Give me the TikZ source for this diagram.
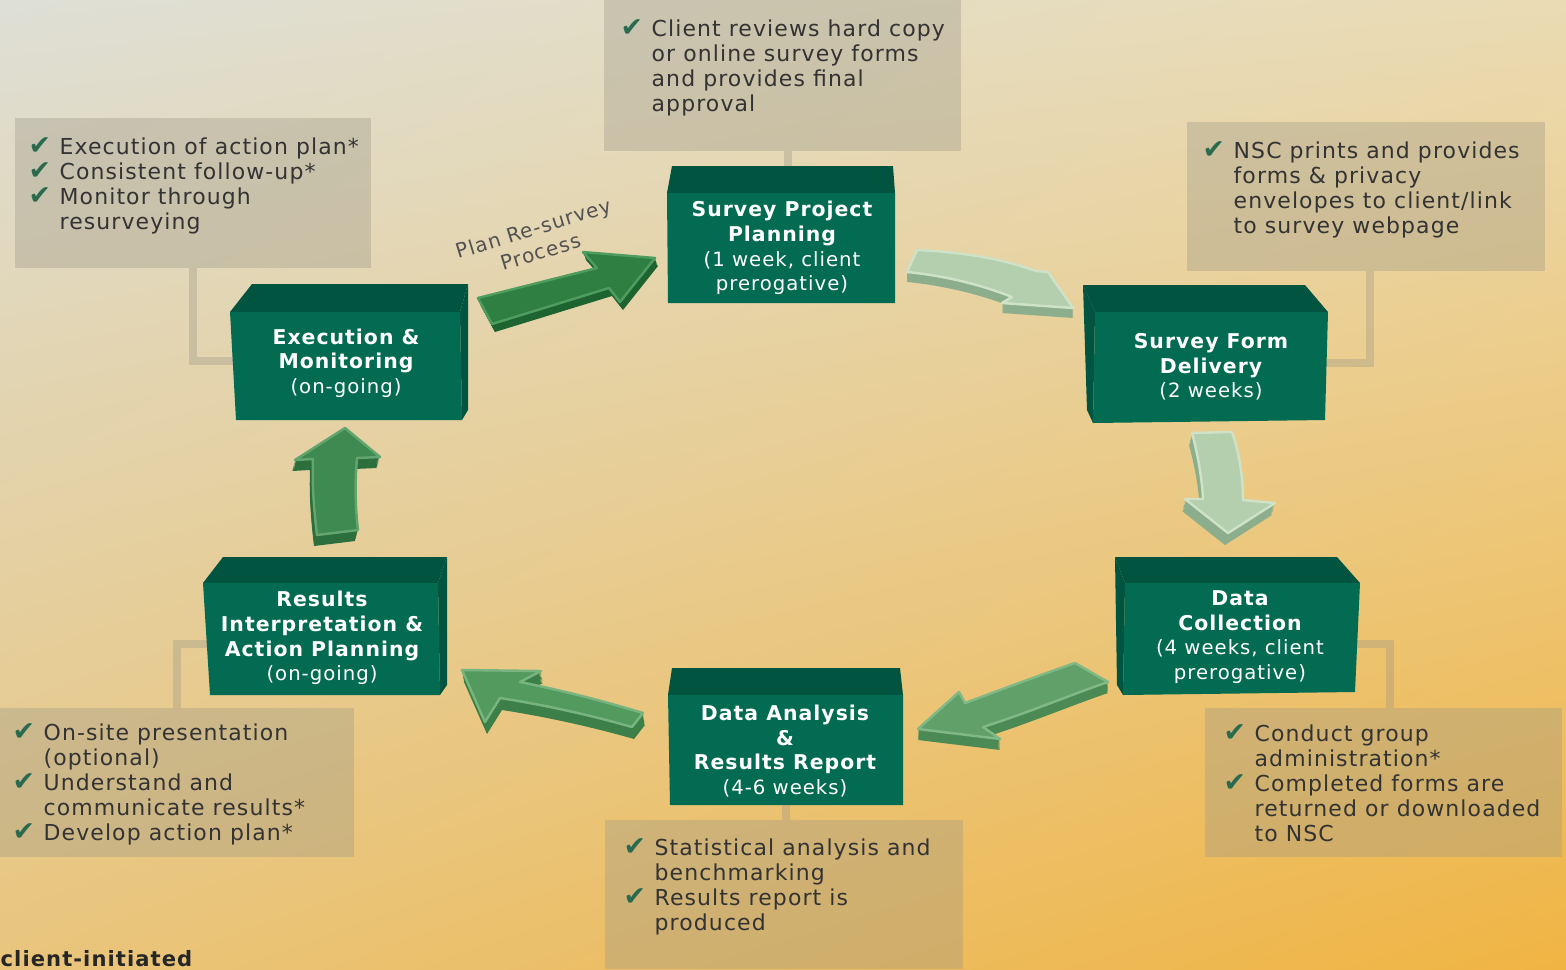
\documentclass[tikz,border=0pt]{standalone}
\usepackage{fontspec}
\setmainfont{DejaVu Sans}[LetterSpace=5]
\usetikzlibrary{shadings}
\definecolor{bgTL}{HTML}{DEDFD6}
\definecolor{bgTR}{HTML}{EADBB3}
\definecolor{bgBL}{HTML}{E9C57C}
\definecolor{bgBR}{HTML}{F0B443}
\definecolor{boxgray}{HTML}{9A9686}
\definecolor{frontc}{HTML}{036B51}
\definecolor{topc}{HTML}{01543F}
\definecolor{txtgray}{HTML}{333333}
\definecolor{ckgreen}{HTML}{2A6A4E}
\definecolor{aTop}{HTML}{2E7F41}\definecolor{aBev}{HTML}{4E9C5E}\definecolor{aSide}{HTML}{1E6430}
\definecolor{lTop}{HTML}{B3CFAE}\definecolor{lBev}{HTML}{CFE2C8}\definecolor{lSide}{HTML}{8DAE8C}
\definecolor{dTop}{HTML}{62A06A}\definecolor{dBev}{HTML}{80B986}\definecolor{dSide}{HTML}{4B8955}
\definecolor{eTop}{HTML}{539A5E}\definecolor{eBev}{HTML}{78B47F}\definecolor{eSide}{HTML}{3D7F49}
\definecolor{fTop}{HTML}{3F8A50}\definecolor{fBev}{HTML}{62A56E}\definecolor{fSide}{HTML}{2C6E3C}
\newcommand\ckb{\makebox[8.8pt][l]{\smash{\textcolor{ckgreen}{\fontsize{7.6}{7.6}\selectfont ✔}}}}
\newcommand\ckn{\makebox[8.8pt]{}}
\def\pA{(478,298) -- (597,268) -- (583,252) -- (655,258) -- (620,302) -- (609,288) -- (492,324) -- cycle}
\def\pB{(917,250) .. controls (960,252) and (1000,258) .. (1036,271) -- (1048,272) -- (1073,308) -- (1002,303) -- (1012,297) .. controls (980,284) and (940,275) .. (907,272) -- cycle}
\def\pC{(1192,433) -- (1232,432) .. controls (1240,455) and (1243,480) .. (1243,500) -- (1275,503) -- (1228,533) -- (1185,499) -- (1203,499) .. controls (1202,478) and (1198,455) .. (1192,433) -- cycle}
\def\pD{(1075,663) -- (1108,682) .. controls (1070,695) and (1030,712) .. (983,727) -- (1000,739) -- (918,729) -- (959,692) -- (965,703) .. controls (1000,690) and (1040,675) .. (1075,663) -- cycle}
\def\pE{(462,670) -- (541,671) -- (520,682) .. controls (560,690) and (600,700) .. (643,713) -- (632,727) .. controls (590,715) and (545,705) .. (500,698) -- (485,722) -- cycle}
\def\pF{(345,428) -- (380,457) -- (357,458) .. controls (355,480) and (355,505) .. (358,530) -- (317,535) .. controls (314,510) and (312,485) .. (313,459) -- (295,460) -- cycle}
\begin{document}
\begin{tikzpicture}[x=0.01cm,y=-0.01cm,
  gbox/.style={fill=boxgray, fill opacity=0.35},
  gline/.style={draw=boxgray, draw opacity=0.35, line width=2.2pt},
  gtext/.style={text=txtgray, font=\fontsize{6.25}{7.1}\selectfont, inner sep=0pt, anchor=north west, align=left},
  btext/.style={text=white, align=center, inner sep=0pt, font=\fontsize{5.6}{7.0}\selectfont},
  frontf/.style={fill=frontc},
  topf/.style={fill=topc},
  bev/.style={line width=0.7pt, line join=round}]
\useasboundingbox (0,0) rectangle (1566,969);
\shade[upper left=bgTL, upper right=bgTR, lower left=bgBL, lower right=bgBR] (0cm,0cm) rectangle (15.66cm,-9.69cm);

% connectors
\coordinate (cTC1) at (788,151); \coordinate (cTC2) at (788,170);
\draw[gline] (cTC1) -- (cTC2);
\coordinate (cTL1) at (193,268); \coordinate (cTL2) at (193,361); \coordinate (cTL3) at (235,361);
\draw[gline] (cTL1) -- (cTL2) -- (cTL3);
\coordinate (cTR1) at (1370,271); \coordinate (cTR2) at (1370,363); \coordinate (cTR3) at (1325,363);
\draw[gline] (cTR1) -- (cTR2) -- (cTR3);
\coordinate (cBR1) at (1390,708); \coordinate (cBR2) at (1390,644); \coordinate (cBR3) at (1352,644);
\draw[gline] (cBR1) -- (cBR2) -- (cBR3);
\coordinate (cBL1) at (177,708); \coordinate (cBL2) at (177,644); \coordinate (cBL3) at (208,644);
\draw[gline] (cBL1) -- (cBL2) -- (cBL3);
\coordinate (cBC1) at (786,802); \coordinate (cBC2) at (786,820);
\draw[gline] (cBC1) -- (cBC2);

% gray boxes
\fill[gbox] (604,0) rectangle (961,151);
\fill[gbox] (15,118) rectangle (371,268);
\fill[gbox] (1187,122) rectangle (1545,271);
\fill[gbox] (1205,708) rectangle (1562,857);
\fill[gbox] (0,708) rectangle (354,857);
\fill[gbox] (605,820) rectangle (963,969);

\node[gtext] (tTC) at (620,19) {\ckb Client reviews hard copy\\\ckn or online survey forms\\\ckn and provides final\\\ckn approval};
\node[gtext] (tTL) at (28,137) {\ckb Execution of action plan*\\\ckb Consistent follow-up*\\\ckb Monitor through\\\ckn resurveying};
\node[gtext] (tTR) at (1202,141) {\ckb NSC prints and provides\\\ckn forms \& privacy\\\ckn envelopes to client/link\\\ckn to survey webpage};
\node[gtext] (tBR) at (1223,724) {\ckb Conduct group\\\ckn administration*\\\ckb Completed forms are\\\ckn returned or downloaded\\\ckn to NSC};
\node[gtext] (tBL) at (12,723) {\ckb On-site presentation\\\ckn (optional)\\\ckb Understand and\\\ckn communicate results*\\\ckb Develop action plan*};
\node[gtext] (tBC) at (623,838) {\ckb Statistical analysis and\\\ckn benchmarking\\\ckb Results report is\\\ckn produced};

% arrows
\foreach \t in {0,...,10} \fill[aSide, shift={(0.3*\t,0.8*\t)}] \pA;
\fill[aTop] \pA; \draw[aBev,bev] \pA;
\foreach \t in {0,...,10} \fill[lSide, shift={(0,1.0*\t)}] \pB;
\fill[lTop] \pB; \draw[lBev,bev] \pB;
\foreach \t in {0,...,10} \fill[lSide, shift={(-0.3*\t,1.2*\t)}] \pC;
\fill[lTop] \pC; \draw[lBev,bev] \pC;
\foreach \t in {0,...,10} \fill[dSide, shift={(0,1.1*\t)}] \pD;
\fill[dTop] \pD; \draw[dBev,bev] \pD;
\foreach \t in {0,...,10} \fill[eSide, shift={(0.2*\t,1.2*\t)}] \pE;
\fill[eTop] \pE; \draw[eBev,bev] \pE;
\foreach \t in {0,...,10} \fill[fSide, shift={(-0.3*\t,1.1*\t)}] \pF;
\fill[fTop] \pF; \draw[fBev,bev] \pF;

\node[text=txtgray!85, rotate=17, align=center, inner sep=0pt, font=\fontsize{5.7}{7.0}\selectfont] (plan) at (537,240) {Plan Re-survey\\Process};

% green boxes
% Survey Project Planning
\fill[topf] (667,193) -- (672,166) -- (893,166) -- (895,193) -- cycle;
\fill[frontf] (667,193) -- (895,193) -- (895,303) -- (668,303) -- cycle;
\node[btext] (spp) at (782,248) {{\fontsize{5.8}{7}\selectfont\bfseries Survey Project}\\{\fontsize{5.8}{7}\selectfont\bfseries Planning}\\(1 week, client\\prerogative)};
% Execution & Monitoring
\fill[topf] (230,312) -- (252,284) -- (468,284) -- (460,312) -- cycle;
\fill[topf] (460,312) -- (468,284) -- (468,410) -- (462,420) -- cycle;
\fill[frontf] (230,312) -- (460,312) -- (462,420) -- (236,420) -- cycle;
\node[btext] (em) at (346,363) {{\fontsize{5.8}{7}\selectfont\bfseries Execution \&}\\{\fontsize{5.8}{7}\selectfont\bfseries Monitoring}\\(on-going)};
% Survey Form Delivery
\fill[topf] (1083,285) -- (1305,285) -- (1328,312) -- (1095,312) -- cycle;
\fill[topf] (1083,285) -- (1095,312) -- (1093,423) -- (1087,410) -- cycle;
\fill[frontf] (1095,312) -- (1328,312) -- (1325,420) -- (1093,423) -- cycle;
\node[btext] (sfd) at (1211,367) {{\fontsize{5.8}{7}\selectfont\bfseries Survey Form}\\{\fontsize{5.8}{7}\selectfont\bfseries Delivery}\\(2 weeks)};
% Data Collection
\fill[topf] (1115,557) -- (1337,557) -- (1360,583) -- (1125,583) -- cycle;
\fill[topf] (1115,557) -- (1125,583) -- (1123,695) -- (1117,685) -- cycle;
\fill[frontf] (1125,583) -- (1360,583) -- (1355,692) -- (1123,695) -- cycle;
\node[btext] (dc) at (1240,637) {{\fontsize{5.8}{7}\selectfont\bfseries Data}\\{\fontsize{5.8}{7}\selectfont\bfseries Collection}\\(4 weeks, client\\prerogative)};
% Results Interpretation
\fill[topf] (223,557) -- (447,557) -- (438,583) -- (203,583) -- cycle;
\fill[topf] (438,583) -- (447,557) -- (447,685) -- (440,695) -- cycle;
\fill[frontf] (203,583) -- (438,583) -- (440,695) -- (210,695) -- cycle;
\node[btext] (riap) at (322,638) {{\fontsize{5.8}{7}\selectfont\bfseries Results}\\{\fontsize{5.8}{7}\selectfont\bfseries Interpretation \&}\\{\fontsize{5.8}{7}\selectfont\bfseries Action Planning}\\(on-going)};
% Data Analysis
\fill[topf] (668,695) -- (672,668) -- (900,668) -- (903,695) -- cycle;
\fill[frontf] (668,695) -- (903,695) -- (903,805) -- (670,805) -- cycle;
\node[btext] (darr) at (785,751) {{\fontsize{5.8}{7}\selectfont\bfseries Data Analysis}\\{\fontsize{5.8}{7}\selectfont\bfseries \&}\\{\fontsize{5.8}{7}\selectfont\bfseries Results Report}\\(4-6 weeks)};

\node[anchor=base west, inner sep=0pt, font=\fontsize{6}{7}\selectfont\bfseries, text=black!85] (ci) at (0,966) {client-initiated};
\end{tikzpicture}
\end{document}
